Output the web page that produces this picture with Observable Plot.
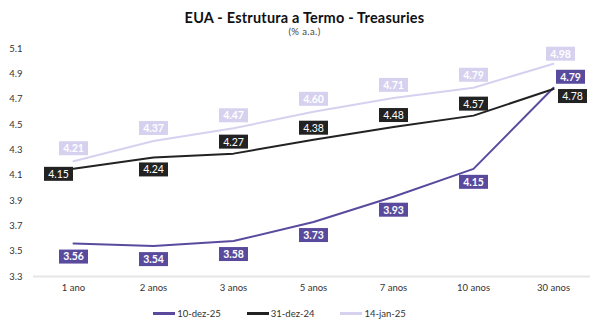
<!DOCTYPE html>
<html>
<head>
<meta charset="utf-8">
<script src="https://cdn.jsdelivr.net/npm/d3@7"></script>
<script src="https://cdn.jsdelivr.net/npm/@observablehq/plot@0.6"></script>
<style>
  html, body { margin: 0; padding: 0; background: #fff; }
  body { width: 609px; height: 331px; font-family: Lato, "Open Sans", sans-serif; overflow: hidden; }
  #title { text-align: center; font-weight: bold; font-size: 14.5px; color: #111; margin-top: 9px; height: 17px; line-height: 17px; letter-spacing: 0.2px; }
  #subtitle { text-align: center; font-size: 9.5px; color: #444; height: 12px; line-height: 12px; letter-spacing: 0.4px; }
  #legend { display: flex; justify-content: center; gap: 26px; font-size: 9.5px; color: #333; margin-top: 12px; padding-right: 50px; }
  .item { display: flex; align-items: center; }
  .sw { display: inline-block; width: 22px; height: 2.5px; margin-right: 2px; }
</style>
</head>
<body>
<div id="title">EUA - Estrutura a Termo - Treasuries</div>
<div id="subtitle">(% a.a.)</div>
<div id="chart"></div>
<div id="legend"></div>
<script>
const tenors = ["1 ano", "2 anos", "3 anos", "5 anos", "7 anos", "10 anos", "30 anos"];
const seriesNames = ["10-dez-25", "31-dez-24", "14-jan-25"];
const dec25 = [3.56, 3.54, 3.58, 3.73, 3.93, 4.15, 4.79];
const dec24 = [4.15, 4.24, 4.27, 4.38, 4.48, 4.57, 4.78];
const jan25 = [4.21, 4.37, 4.47, 4.60, 4.71, 4.79, 4.98];
const yTicks = [3.3, 3.5, 3.7, 3.9, 4.1, 4.3, 4.5, 4.7, 4.9, 5.1];

const colors = {"10-dez-25": "#5a4a9e", "31-dez-24": "#222222", "14-jan-25": "#d6d1ef"};
const bold = {"10-dez-25": "bold", "31-dez-24": "normal", "14-jan-25": "bold"};

const rows = [];
[[seriesNames[0], dec25], [seriesNames[1], dec24], [seriesNames[2], jan25]].forEach(([s, vals]) => {
  vals.forEach((v, i) => rows.push({series: s, tenor: tenors[i], value: v, i}));
});

// label placement (pixel offsets) decided per series / position
function offset(r) {
  const last = r.i === tenors.length - 1;
  if (r.series === "10-dez-25") return last ? [17, -11] : [0, 13];
  if (r.series === "31-dez-24") {
    if (r.i === 0) return [-15, 5];
    if (r.i === 1) return [0, 12];
    if (last) return [19, 7];
    return [0, -12];
  }
  return last ? [7, -10] : [0, -13];
}

const box = {
  draw(ctx) {
    const w = 14.5, h = 7;
    ctx.moveTo(-w, -h); ctx.lineTo(w, -h); ctx.lineTo(w, h); ctx.lineTo(-w, h); ctx.closePath();
  }
};

const labelMarks = [];
rows.forEach(r => {
  const [dx, dy] = offset(r);
  labelMarks.push(Plot.dot([r], {x: "tenor", y: "value", symbol: box, r: 5, fill: colors[r.series], stroke: "none", dx, dy}));
  labelMarks.push(Plot.text([r], {x: "tenor", y: "value", text: d => d.value.toFixed(2), fill: "white", fontSize: 10.5, fontWeight: bold[r.series], dx, dy: dy + 0.5}));
});

const chart = Plot.plot({
  width: 609,
  height: 258,
  marginTop: 10,
  marginBottom: 20,
  marginLeft: 33,
  marginRight: 16,
  style: {fontFamily: "Lato, 'Open Sans', sans-serif", fontSize: "9.5px", color: "#333"},
  x: {type: "band", domain: tenors, padding: 0, label: null, tickSize: 0, tickPadding: 8},
  y: {domain: [3.3, 5.1], ticks: yTicks, tickFormat: d3.format(".1f"), label: null, tickSize: 0, tickPadding: 11},
  marks: [
    Plot.ruleY([3.3], {stroke: "#e6e6e6", strokeWidth: 2, insetRight: 3}),
    Plot.lineY(rows, {x: "tenor", y: "value", z: "series", stroke: d => colors[d.series], strokeWidth: 2, curve: "linear"}),
    ...labelMarks
  ]
});
document.getElementById("chart").appendChild(chart);

const legend = document.getElementById("legend");
seriesNames.forEach(s => {
  const it = document.createElement("div");
  it.className = "item";
  it.innerHTML = `<span class="sw" style="background:${colors[s]}"></span><span>${s}</span>`;
  legend.appendChild(it);
});
</script>
</body>
</html>
